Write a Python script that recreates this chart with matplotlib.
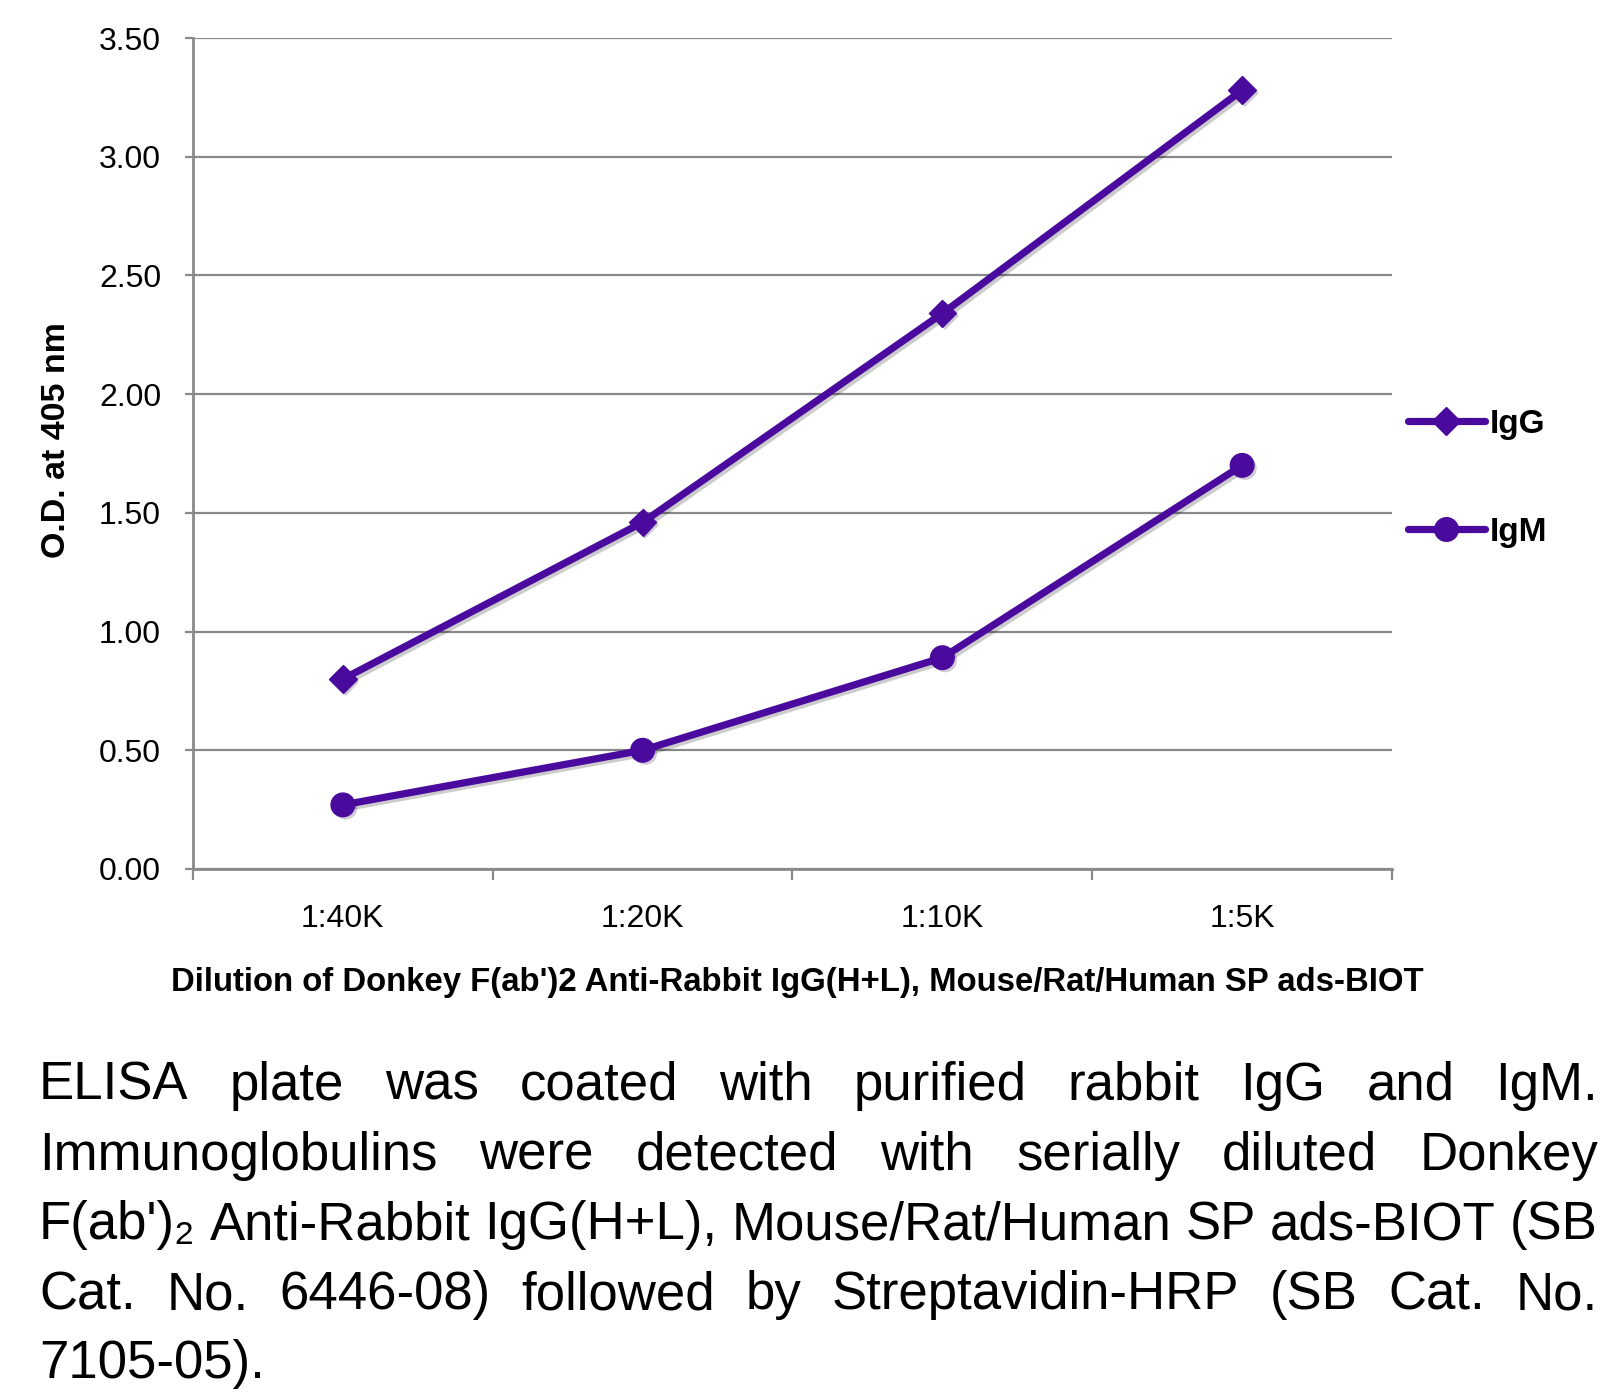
import matplotlib
matplotlib.use("Agg")
import matplotlib.pyplot as plt
import matplotlib.patheffects as pe
from matplotlib import font_manager
from matplotlib.lines import Line2D
from matplotlib.ticker import FixedLocator

# data
dilutions = ["1:40K", "1:20K", "1:10K", "1:5K"]
igg_od = [0.80, 1.46, 2.34, 3.28]
igm_od = [0.27, 0.50, 0.89, 1.70]
y_ticks = [0.0, 0.5, 1.0, 1.5, 2.0, 2.5, 3.0, 3.5]

x_label = "Dilution of Donkey F(ab')2 Anti-Rabbit IgG(H+L), Mouse/Rat/Human SP ads-BIOT"
y_label = "O.D. at 405 nm"
caption_lines = [
    "ELISA plate was coated with purified rabbit IgG and IgM.",
    "Immunoglobulins were detected with serially diluted Donkey",
    "F(ab')\u2082 Anti-Rabbit IgG(H+L), Mouse/Rat/Human SP ads-BIOT (SB",
    "Cat. No. 6446-08) followed by Streptavidin-HRP (SB Cat. No.",
    "7105-05).",
]


def pick(*names):
    for n in names:
        try:
            font_manager.findfont(font_manager.FontProperties(family=n),
                                  fallback_to_default=False)
            return n
        except ValueError:
            pass
    return "DejaVu Sans"


narrow = pick("Liberation Sans Narrow", "Liberation Sans")
regular = pick("Liberation Sans", "DejaVu Sans")

W, H = 1624, 1393
purple = "#4B0A9E"
grey = "#898989"

fig = plt.figure(figsize=(W / 100, H / 100), dpi=100)
ax = fig.add_axes([193 / W, 1 - 869 / H, (1392 - 193) / W, (869 - 38) / H])

xs = range(len(dilutions))
line_fx = [pe.SimpleLineShadow(offset=(2, -2), alpha=0.2), pe.Normal()]
mark_fx = [pe.SimplePatchShadow(offset=(2, -2), alpha=0.2), pe.Normal()]

ax.plot(xs, igg_od, color=purple, lw=5.2, solid_capstyle="round", path_effects=line_fx, zorder=3)
ax.plot(xs, igg_od, ls="none", marker="D", ms=14, color=purple, path_effects=mark_fx, zorder=4)
ax.plot(xs, igm_od, color=purple, lw=5.2, solid_capstyle="round", path_effects=line_fx, zorder=3)
ax.plot(xs, igm_od, ls="none", marker="o", ms=17, color=purple, path_effects=mark_fx, zorder=4)

ax.set_xlim(-0.5, len(dilutions) - 0.5)
ax.set_ylim(0, 3.5)
ax.set_yticks(y_ticks)
ax.set_yticklabels([f"{v:.2f}" for v in y_ticks])
ax.set_xticks(list(xs))
ax.set_xticklabels(dilutions)
ax.xaxis.set_minor_locator(FixedLocator([i - 0.5 for i in range(len(dilutions) + 1)]))

ax.grid(axis="y", color=grey, lw=1.6)
ax.set_axisbelow(True)
for s in ["top", "right"]:
    ax.spines[s].set_visible(False)
for s in ["left", "bottom"]:
    ax.spines[s].set_color(grey)
    ax.spines[s].set_linewidth(2)

ax.tick_params(axis="y", direction="out", length=6, width=1.6, color=grey, pad=17,
               labelsize=23)
ax.tick_params(axis="x", which="major", length=0, pad=25, labelsize=23)
ax.tick_params(axis="x", which="minor", direction="out", length=8, width=1.6, color=grey)
for lab in ax.get_xticklabels() + ax.get_yticklabels():
    lab.set_fontfamily(regular)

fig.text(57 / W, 1 - 440 / H, y_label, rotation=90, ha="center", va="center",
         fontsize=24.5, fontweight="bold", family=narrow)
fig.text(797 / W, 1 - 983 / H, x_label, ha="center", va="center",
         fontsize=23.7, fontweight="bold", family=narrow)

handles = [
    Line2D([], [], color=purple, lw=5.2, marker="D", ms=14, solid_capstyle="round"),
    Line2D([], [], color=purple, lw=5.2, marker="o", ms=17, solid_capstyle="round"),
]
fig.legend(handles, ["IgG", "IgM"], loc="upper left",
           bbox_to_anchor=(1408 / W, 1 - 409 / H), frameon=False,
           borderpad=0, borderaxespad=0, handlelength=2.3, handletextpad=0.15,
           labelspacing=2.3, prop={"family": narrow, "weight": "bold", "size": 24})

# justified caption below the chart
renderer = fig.canvas.get_renderer()
left_px, right_px = 39, 1598
baselines = [1100, 1170, 1239, 1309, 1378]
for i, line in enumerate(caption_lines):
    words = line.split()
    texts = [fig.text(0, 1 - baselines[i] / H, w, va="baseline", fontsize=38,
                      family=[narrow, "DejaVu Sans"]) for w in words]
    widths = [t.get_window_extent(renderer).width for t in texts]
    if i < len(caption_lines) - 1 and len(words) > 1:
        gap = (right_px - left_px - sum(widths)) / (len(words) - 1)
    else:
        gap = 12
    x = left_px
    for t, w in zip(texts, widths):
        t.set_x(x / W)
        x += w + gap

fig.savefig("out.png", dpi=100)
